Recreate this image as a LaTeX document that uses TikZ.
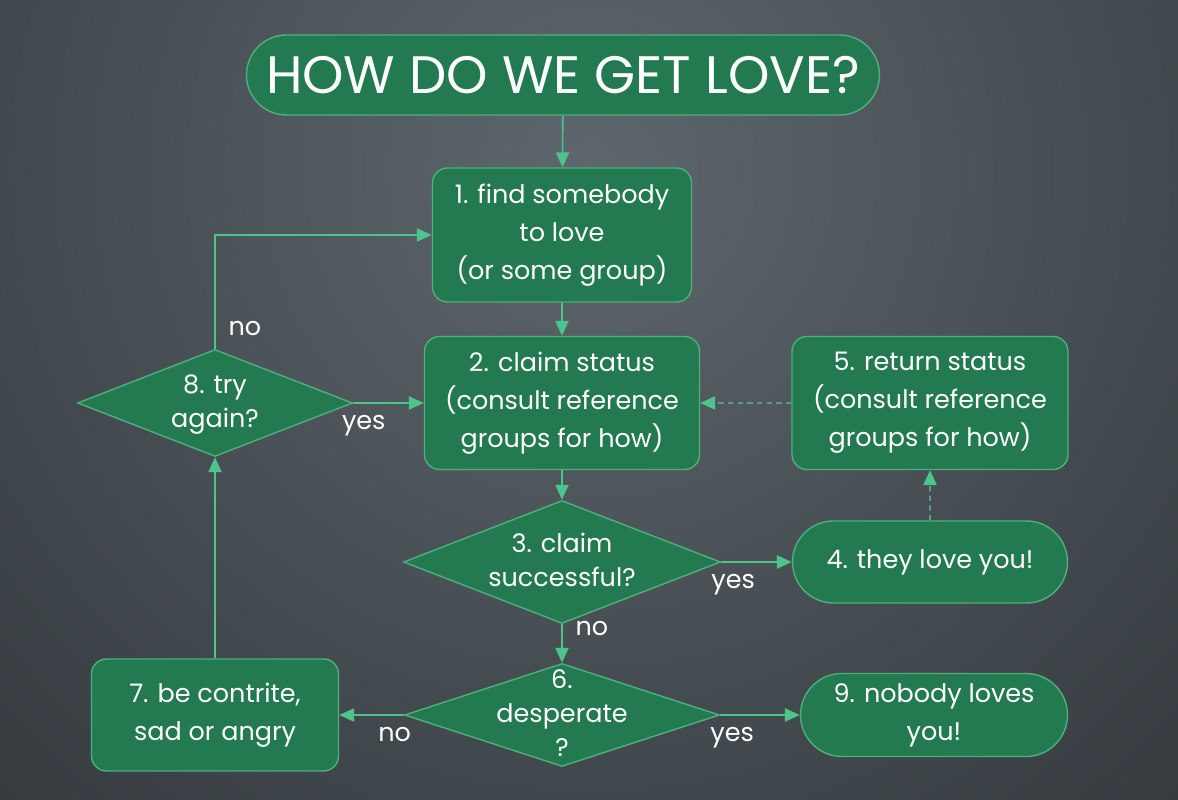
\documentclass[tikz,border=0pt]{standalone}
\usepackage{fontspec}
\setmainfont{Poppins}
\usetikzlibrary{shapes.geometric,shapes.misc,arrows.meta}
\definecolor{leaf}{HTML}{237A50}
\definecolor{leafline}{HTML}{4FAE7E}
\definecolor{mint}{HTML}{4CC48C}
\definecolor{dashmint}{HTML}{5A9C84}
\definecolor{slate}{HTML}{5E676D}
\definecolor{night}{HTML}{1E2225}
% diamond text that does not blow up the shape
\newcommand{\flatlines}[1]{\makebox[0pt]{\smash{\raisebox{-0.15cm}{\renewcommand{\arraystretch}{0.9}\begin{tabular}{@{}c@{}}#1\end{tabular}}}}}

\begin{document}
\begin{tikzpicture}[>={Triangle[length=8.5pt,width=7.5pt]},
  every node/.style={text=white, font=\fontsize{14.5}{21.5}\selectfont},
  box/.style={draw=leafline, fill=leaf, line width=0.8pt, rounded corners=0.3cm, align=center, inner sep=0pt},
  pill/.style={draw=leafline, fill=leaf, line width=0.8pt, rounded rectangle, align=center, inner sep=0pt},
  choice/.style={draw=leafline, fill=leaf, line width=0.8pt, diamond, inner sep=0pt},
  flow/.style={->, draw=mint, line width=0.9pt},
  back/.style={-{Triangle[length=8.5pt,width=7.5pt,color=mint]}, draw=dashmint, line width=0.9pt, dash pattern=on 3pt off 2.5pt}]

% background
\useasboundingbox (0,0) rectangle (23.56,16);
\begin{scope}
\clip (0,0) rectangle (23.56,16);
\shade[inner color=slate, outer color=night] (11.8,12.6) circle (27cm);
\end{scope}

\node[pill, minimum width=12.66cm, minimum height=1.6cm, font=\fontsize{30}{36}\selectfont] (T) at (11.26,14.5) {HOW DO WE GET LOVE?};

\node[box, minimum width=5.18cm, minimum height=2.68cm] (B1) at (11.24,11.3) {1. find somebody\\to love\\(or some group)};
\node[box, minimum width=5.5cm, minimum height=2.66cm] (B2) at (11.24,7.94) {2. claim status\\(consult reference\\groups for how)};
\node[choice, minimum width=6.34cm, minimum height=2.46cm] (D3) at (11.24,4.76) {\flatlines{3. claim\\successful?}};
\node[pill, minimum width=5.5cm, minimum height=1.64cm] (B4) at (18.6,4.76) {4. they love you!};
\node[box, minimum width=5.52cm, minimum height=2.66cm] (B5) at (18.6,7.94) {5. return status\\(consult reference\\groups for how)};
\node[choice, minimum width=6.3cm, minimum height=2.06cm] (D6) at (11.24,1.7) {\flatlines{6.\\desperate\\?}};
\node[box, minimum width=4.94cm, minimum height=2.24cm] (B7) at (4.3,1.7) {7. be contrite,\\sad or angry};
\node[choice, minimum width=5.5cm, minimum height=2.14cm] (D8) at (4.3,7.94) {\flatlines{8. try\\again?}};
\node[pill, minimum width=5.34cm, minimum height=1.66cm] (B9) at (18.68,1.7) {9. nobody loves\\you!};

\draw[flow] (T) -- (B1);
\draw[flow] (B1) -- (B2);
\draw[flow] (B2) -- (D3);
\draw[flow] (D3) -- node[pos=.17, below=3pt] {yes} (B4);
\draw[back] (B4) -- (B5);
\draw[back] (B5) -- (B2);
\draw[flow] (D3) -- node[pos=.1, right=4pt] {no} (D6);
\draw[flow] (D6) -- node[pos=.14, below=3pt] {no} (B7);
\draw[flow] (D6) -- node[pos=.15, below=3pt] {yes} (B9);
\draw[flow] (B7) -- (D8);
\draw[flow] (D8) -- node[pos=.15, below=3pt] {yes} (B2);
\draw[flow] (D8.north) |- node[pos=.09, right=4pt] {no} (B1.west);
\end{tikzpicture}
\end{document}
